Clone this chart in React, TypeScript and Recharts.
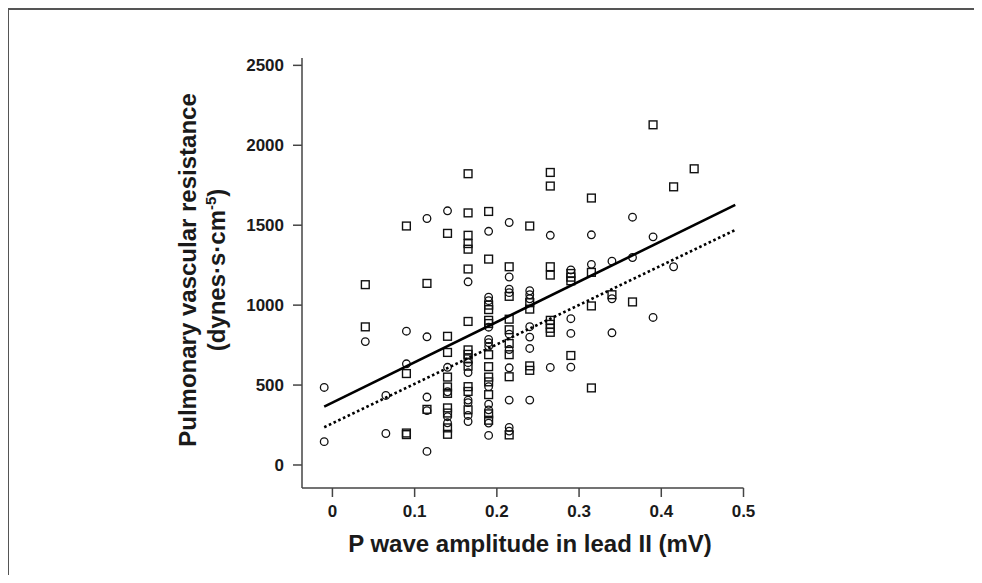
import React from 'react';
import { ScatterChart, Scatter, XAxis, YAxis } from 'recharts';

// points: [P wave amplitude (mV), PVR]
const circlePoints: [number, number][] = [
  [-0.01, 485], [-0.01, 146],
  [0.04, 772],
  [0.065, 435], [0.065, 197],
  [0.09, 837], [0.09, 633],
  [0.115, 1542], [0.115, 802], [0.115, 425], [0.115, 340], [0.115, 85],
  [0.14, 1590], [0.14, 611], [0.14, 458], [0.14, 302], [0.14, 264],
  [0.165, 1146], [0.165, 640], [0.165, 578], [0.165, 406], [0.165, 390], [0.165, 310], [0.165, 272],
  [0.19, 1462], [0.19, 1050], [0.19, 1028], [0.19, 862], [0.19, 785], [0.19, 765], [0.19, 742],
  [0.19, 490], [0.19, 380], [0.19, 345], [0.19, 262], [0.19, 185],
  [0.215, 1517], [0.215, 1176], [0.215, 1100], [0.215, 1078], [0.215, 818], [0.215, 722],
  [0.215, 608], [0.215, 406], [0.215, 235], [0.215, 212],
  [0.24, 1090], [0.24, 1065], [0.24, 1040], [0.24, 865], [0.24, 800], [0.24, 729], [0.24, 406],
  [0.265, 1437], [0.265, 610],
  [0.29, 1220], [0.29, 915], [0.29, 823], [0.29, 612],
  [0.315, 1440], [0.315, 1255],
  [0.34, 1275], [0.34, 1040], [0.34, 827],
  [0.365, 1550], [0.365, 1298],
  [0.39, 1427], [0.39, 923],
  [0.415, 1240],
];

const squarePoints: [number, number][] = [
  [0.04, 1128], [0.04, 864],
  [0.09, 1495], [0.09, 572], [0.09, 200], [0.09, 190],
  [0.115, 1136], [0.115, 348],
  [0.14, 1449], [0.14, 805], [0.14, 704], [0.14, 550], [0.14, 488], [0.14, 448], [0.14, 357],
  [0.14, 325], [0.14, 232], [0.14, 192],
  [0.165, 1822], [0.165, 1577], [0.165, 1437], [0.165, 1385], [0.165, 1350], [0.165, 1226],
  [0.165, 898], [0.165, 720], [0.165, 692], [0.165, 664], [0.165, 618], [0.165, 490], [0.165, 460], [0.165, 345],
  [0.19, 1586], [0.19, 1288], [0.19, 1000], [0.19, 972], [0.19, 905], [0.19, 885], [0.19, 690],
  [0.19, 615], [0.19, 550], [0.19, 520], [0.19, 440], [0.19, 320], [0.19, 280],
  [0.215, 1240], [0.215, 1055], [0.215, 912], [0.215, 846], [0.215, 760], [0.215, 690], [0.215, 552], [0.215, 188],
  [0.24, 1495], [0.24, 1015], [0.24, 975], [0.24, 620], [0.24, 592],
  [0.265, 1830], [0.265, 1745], [0.265, 1240], [0.265, 1188], [0.265, 905], [0.265, 880], [0.265, 855], [0.265, 830],
  [0.29, 1198], [0.29, 1175], [0.29, 1152], [0.29, 685],
  [0.315, 1670], [0.315, 1205], [0.315, 995], [0.315, 482],
  [0.34, 1065],
  [0.365, 1020],
  [0.39, 2128],
  [0.415, 1740],
  [0.44, 1853],
];

// fitted lines, end points
const solidLine = [
  { x: -0.01, y: 365 },
  { x: 0.49, y: 1627 },
];
const dottedLine = [
  { x: -0.01, y: 236 },
  { x: 0.49, y: 1470 },
];

const xTicks = [0, 0.1, 0.2, 0.3, 0.4, 0.5];
const yTicks = [0, 500, 1000, 1500, 2000, 2500];

const circleData = circlePoints.map(([x, y]) => ({ x, y }));
const squareData = squarePoints.map(([x, y]) => ({ x, y }));

const font = '"Liberation Sans", Arial, Helvetica, sans-serif';
const ink = '#1a1a1a';
const axisGrey = '#444';

const CircleMark = (props: any) => (
  <circle cx={props.cx} cy={props.cy} r={3.8} fill="none" stroke="#111" strokeWidth={1.3} />
);
const SquareMark = (props: any) => (
  <rect x={props.cx - 3.9} y={props.cy - 3.9} width={7.8} height={7.8} fill="none" stroke="#111" strokeWidth={1.4} />
);
const NoMark = () => <g />;

export default function App() {
  const tickStyle = { fill: ink, fontSize: 17, fontWeight: 700, fontFamily: font };
  return (
    <div style={{ position: 'relative', width: 960, height: 567 }}>
      <div
        style={{
          position: 'absolute',
          left: -1,
          top: 0,
          width: 969,
          height: 575,
          boxSizing: 'border-box',
          borderTop: '2px solid #555',
          borderLeft: '2px solid #555',
          borderRight: '2px solid #555',
        }}
      />
      <div style={{ position: 'absolute', left: 0, top: 0 }}>
        <ScatterChart width={960} height={567} margin={{ top: 50, right: 224.5, bottom: 57, left: 234 }}>
          <XAxis
            type="number"
            dataKey="x"
            domain={[-0.037, 0.5]}
            ticks={xTicks}
            allowDataOverflow
            height={30}
            tickSize={9}
            tickMargin={8}
            stroke={axisGrey}
            strokeWidth={1.5}
            tick={tickStyle}
            tickFormatter={(v: number) => String(v)}
          />
          <YAxis
            type="number"
            dataKey="y"
            domain={[-144, 2546]}
            ticks={yTicks}
            allowDataOverflow
            width={60}
            tickSize={9}
            tickMargin={9}
            stroke={axisGrey}
            strokeWidth={1.5}
            tick={tickStyle}
          />
          <Scatter data={squareData} shape={SquareMark} isAnimationActive={false} />
          <Scatter data={circleData} shape={CircleMark} isAnimationActive={false} />
          <Scatter
            data={solidLine}
            shape={NoMark}
            line={{ stroke: '#000', strokeWidth: 2.6 }}
            isAnimationActive={false}
          />
          <Scatter
            data={dottedLine}
            shape={NoMark}
            line={{ stroke: '#000', strokeWidth: 2.6, strokeDasharray: '2.6 2.6' }}
            isAnimationActive={false}
          />
        </ScatterChart>
      </div>
      <svg
        width={960}
        height={567}
        style={{ position: 'absolute', left: 0, top: 0, pointerEvents: 'none' }}
      >
        <g fontFamily={font} fontWeight={700} fill={ink} fontSize={24}>
          <text x={522} y={544} textAnchor="middle">
            P wave amplitude in lead II (mV)
          </text>
          <text x={188} y={262} textAnchor="middle" transform="rotate(-90 188 262)">
            Pulmonary vascular resistance
          </text>
          <text x={217} y={262} textAnchor="middle" transform="rotate(-90 217 262)">
            (dynes·s·cm
            <tspan fontSize={15} dy={-9}>-5</tspan>
            <tspan dy={9}>)</tspan>
          </text>
        </g>
      </svg>
    </div>
  );
}
